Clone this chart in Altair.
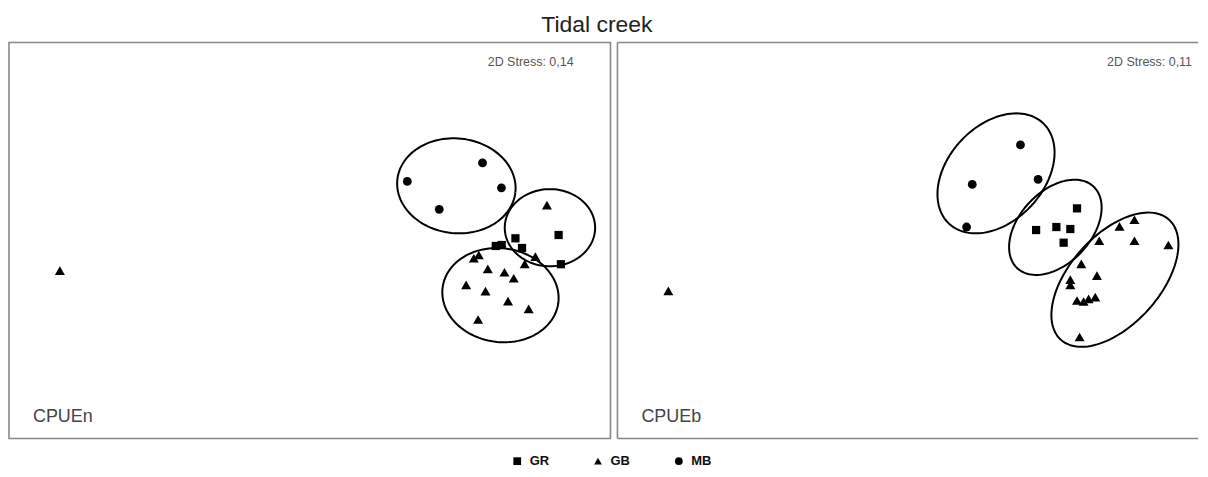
import altair as alt
import pandas as pd
import numpy as np

groups = ["GR", "GB", "MB"]
shapes = ["square", "triangle-up", "circle"]
marker_sizes = [68, 100, 78]

# ---- CPUEn (left panel) MDS coordinates ----
n_gr_x = [1.88, 1.94, 2.077, 2.143, 2.51, 2.533]
n_gr_y = [-0.07, -0.06, 0.007, -0.09, 0.04, -0.253]
n_gb_x = [2.393, 1.66, 1.71, 1.80, 1.967, 2.06, 2.17, 2.277, 1.583, 1.777, 2.003, 2.21, 1.703, -2.49]
n_gb_y = [0.34, -0.193, -0.16, -0.30, -0.333, -0.393, -0.25, -0.177, -0.46, -0.523, -0.623, -0.70, -0.807, -0.317]
n_mb_x = [0.993, 1.747, 1.937, 1.313]
n_mb_y = [0.577, 0.763, 0.513, 0.297]
# ellipses: group, centre x, centre y, semi-axis a, semi-axis b, angle (deg)
n_ell_group = ["MB", "GR", "GB"]
n_ell_cx = [1.485, 2.423, 1.927]
n_ell_cy = [0.533, 0.113, -0.563]
n_ell_a = [0.595, 0.453, 0.585]
n_ell_b = [0.475, 0.387, 0.47]
n_ell_ang = [-6, 0, -8]

# ---- CPUEb (right panel) MDS coordinates ----
b_gr_x = [1.607, 1.197, 1.40, 1.54, 1.473]
b_gr_y = [0.307, 0.09, 0.12, 0.10, -0.037]
b_gb_x = [2.183, 2.033, 1.83, 2.183, 2.523, 1.65, 1.807, 1.54, 1.54, 1.607, 1.673, 1.723, 1.79, 1.633, -2.49]
b_gb_y = [0.193, 0.127, -0.017, -0.017, -0.06, -0.25, -0.367, -0.407, -0.46, -0.617, -0.627, -0.60, -0.583, -0.983, -0.52]
b_mb_x = [1.04, 0.557, 1.217, 0.50]
b_mb_y = [0.943, 0.547, 0.597, 0.12]
b_ell_group = ["MB", "GR", "GB"]
b_ell_cx = [0.795, 1.39, 1.987]
b_ell_cy = [0.658, 0.117, -0.408]
b_ell_a = [0.69, 0.56, 0.81]
b_ell_b = [0.48, 0.36, 0.45]
b_ell_ang = [47, 47, 48]

stress_labels = ["2D Stress: 0,14", "2D Stress: 0,11"]
panel_labels = ["CPUEn", "CPUEb"]

FONT = "Liberation Sans"
LEFT_W, RIGHT_W, H = 603, 582, 397
Y_DOM = [-2.0, 1.97]


def points_df(grx, gry, gbx, gby, mbx, mby):
    rows = []
    for g, xs, ys in (("GR", grx, gry), ("GB", gbx, gby), ("MB", mbx, mby)):
        for x, y in zip(xs, ys):
            rows.append({"x": x, "y": y, "group": g})
    return pd.DataFrame(rows)


def ellipse_df(gs, cxs, cys, as_, bs, angs):
    rows = []
    t = np.linspace(0, 2 * np.pi, 121)
    for g, cx, cy, a, b, ang in zip(gs, cxs, cys, as_, bs, angs):
        th = np.deg2rad(ang)
        ex = cx + a * np.cos(t) * np.cos(th) - b * np.sin(t) * np.sin(th)
        ey = cy + a * np.cos(t) * np.sin(th) + b * np.sin(t) * np.cos(th)
        for i, (px, py) in enumerate(zip(ex, ey)):
            rows.append({"x": px, "y": py, "ell": g, "i": i})
    return pd.DataFrame(rows)


def panel(pts, ells, xdom, width, stress, label, stress_x, show_legend, border):
    xs = alt.Scale(domain=xdom, nice=False, zero=False)
    ys = alt.Scale(domain=Y_DOM, nice=False, zero=False)
    ell = alt.Chart(ells).mark_line(color="black", strokeWidth=2, clip=True).encode(
        x=alt.X("x:Q", scale=xs, axis=None),
        y=alt.Y("y:Q", scale=ys, axis=None),
        detail="ell:N",
        order="i:Q",
    )
    if show_legend:
        leg = alt.Legend(
            orient="none", legendX=503, legendY=413, direction="horizontal",
            title=None, labelFont=FONT, labelFontWeight="bold", labelFontSize=13,
            labelColor="#111", symbolSize=60, symbolFillColor="black",
            symbolStrokeColor="black", symbolStrokeWidth=0, columnPadding=42,
            labelOffset=6,
        )
    else:
        leg = None
    pt_layers = []
    for g, sz in zip(groups, marker_sizes):
        pt_layers.append(
            alt.Chart(pts).transform_filter(alt.datum.group == g)
            .mark_point(filled=True, color="black", opacity=1, size=sz)
            .encode(
                x=alt.X("x:Q", scale=xs, axis=None),
                y=alt.Y("y:Q", scale=ys, axis=None),
                shape=alt.Shape("group:N", scale=alt.Scale(domain=groups, range=shapes), legend=leg),
            )
        )
    st = alt.Chart(pd.DataFrame({"t": [stress]})).mark_text(
        align="right", baseline="alphabetic", font=FONT, fontSize=12.5, color="#555"
    ).encode(text="t:N", x=alt.value(stress_x), y=alt.value(24))
    lb = alt.Chart(pd.DataFrame({"t": [label]})).mark_text(
        align="left", baseline="alphabetic", font=FONT, fontSize=18, color="#444"
    ).encode(text="t:N", x=alt.value(24), y=alt.value(380))
    layers = [ell] + pt_layers + [st, lb]
    if border:
        one = pd.DataFrame({"k": [0]})
        rc = dict(color="#888", strokeWidth=1.6)
        layers += [
            alt.Chart(one).mark_rule(**rc).encode(x=alt.value(0), x2=alt.value(width), y=alt.value(0)),
            alt.Chart(one).mark_rule(**rc).encode(x=alt.value(0), x2=alt.value(width), y=alt.value(H)),
            alt.Chart(one).mark_rule(**rc).encode(x=alt.value(0), y=alt.value(0), y2=alt.value(H)),
        ]
    ch = alt.layer(*layers).properties(width=width, height=H)
    if border:
        ch = ch.properties(view=alt.ViewBackground(stroke="transparent"))
    return ch


left = panel(
    points_df(n_gr_x, n_gr_y, n_gb_x, n_gb_y, n_mb_x, n_mb_y),
    ellipse_df(n_ell_group, n_ell_cx, n_ell_cy, n_ell_a, n_ell_b, n_ell_ang),
    [-3.0, 3.03], LEFT_W, stress_labels[0], panel_labels[0], 566, True, False,
)
right = panel(
    points_df(b_gr_x, b_gr_y, b_gb_x, b_gb_y, b_mb_x, b_mb_y),
    ellipse_df(b_ell_group, b_ell_cx, b_ell_cy, b_ell_a, b_ell_b, b_ell_ang),
    [-3.0, -3.0 + RIGHT_W / 100.0], RIGHT_W, stress_labels[1], panel_labels[1], 576, False, True,
)

chart = (
    alt.hconcat(left, right, spacing=4)
    .properties(
        title=alt.TitleParams(
            "Tidal creek", fontSize=23, fontWeight="normal", font=FONT, color="#222",
            anchor="middle", offset=4, dx=-7,
        ),
        padding={"left": 0, "top": 5, "right": 0, "bottom": 0},
        background="white",
    )
    .configure_view(stroke="#888", strokeWidth=1.6)
)

chart.save("out.html", embed_options={"renderer": "svg", "actions": False})
